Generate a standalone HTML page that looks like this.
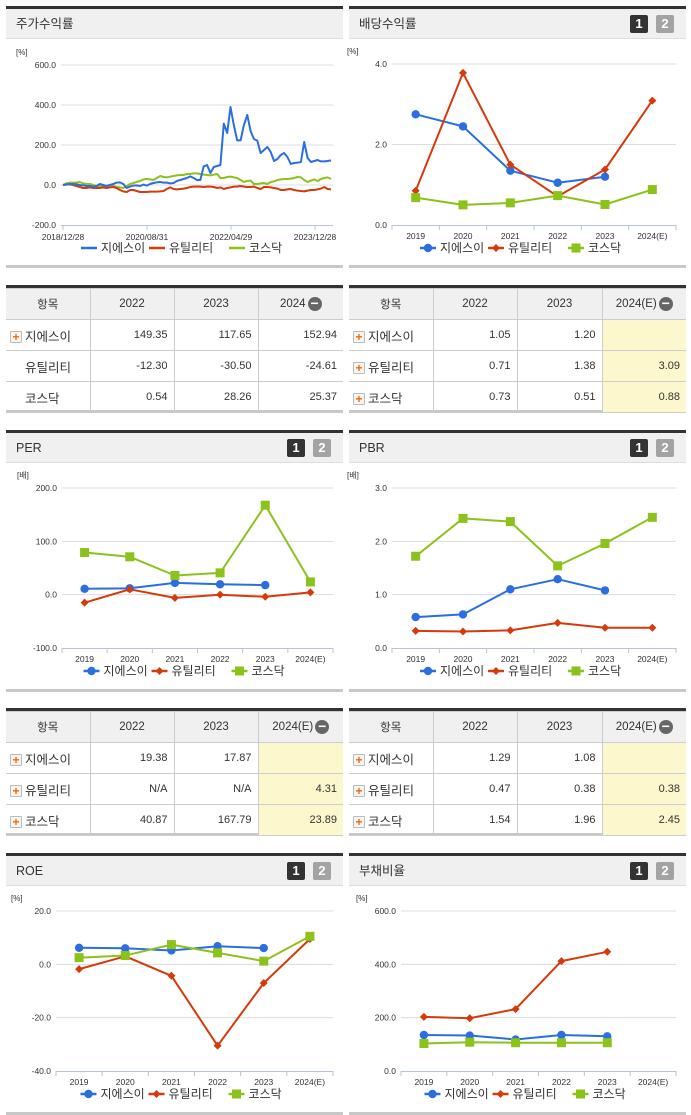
<!DOCTYPE html>
<html><head><meta charset="utf-8">
<style>
*{margin:0;padding:0;box-sizing:border-box}
body{width:691px;height:1115px;background:#fff;position:relative;overflow:hidden;font-family:"Liberation Sans","Noto Sans CJK KR",sans-serif;color:#333}
.panel{position:absolute;border-top:3px solid #333;border-bottom:3px solid #c8c8c8}
.hdr{position:absolute;left:0;right:0;top:0;height:30px;background:#f0f0f0;border-bottom:1px solid #ddd;font-size:12.5px;line-height:30px;padding-left:10px;color:#333}
.b1,.b2{position:absolute;top:6px;width:18px;height:18px;color:#fff;font-weight:bold;font-size:13px;line-height:18px;text-align:center;border-radius:2px}
.b1{background:#333;right:38px}.b2{background:#a3a3a3;right:12px}
table{position:absolute;border-collapse:collapse;font-size:11px;table-layout:fixed}
.tw{position:absolute;border-top:3px solid #333;border-bottom:3px solid #c8c8c8}
td,th{border:1px solid #ccc;height:31px;font-weight:normal}
th{background:#f0f0f0;font-size:11.5px;text-align:center}
tr td:first-child,tr th:first-child{border-left:none}
tr td:last-child,tr th:last-child{border-right:none}
td{text-align:right;padding-right:6px}
td.n{text-align:left;padding-left:4px;font-size:12.5px}
td.y{background:#fdf7cd}
.pl{display:inline-block;width:12px;height:12px;border:1px solid #bbb;background:#f6f6f6;color:#f26a00;font-size:12px;line-height:10px;text-align:center;font-weight:bold;vertical-align:middle;margin-right:3px;border-radius:1px}
.sp{display:inline-block;width:15px}
.mi{display:inline-block;width:14px;height:14px;border-radius:7px;background:#666;color:#fff;line-height:13px;font-size:14px;text-align:center;vertical-align:middle;margin-left:2px;font-weight:bold}
svg.ov{position:absolute;left:0;top:0;width:691px;height:1115px;pointer-events:none}
svg text{font-family:"Liberation Sans","Noto Sans CJK KR",sans-serif}
</style></head><body>

<div class="panel" style="left:6px;top:6px;width:337px;height:262px"><div class="hdr">주가수익률</div></div>
<div class="panel" style="left:349px;top:6px;width:337px;height:262px"><div class="hdr">배당수익률</div><div class="b1">1</div><div class="b2">2</div></div>
<div class="panel" style="left:6px;top:430px;width:337px;height:262px"><div class="hdr">PER</div><div class="b1">1</div><div class="b2">2</div></div>
<div class="panel" style="left:349px;top:430px;width:337px;height:262px"><div class="hdr">PBR</div><div class="b1">1</div><div class="b2">2</div></div>
<div class="panel" style="left:6px;top:853px;width:337px;height:262px"><div class="hdr">ROE</div><div class="b1">1</div><div class="b2">2</div></div>
<div class="panel" style="left:349px;top:853px;width:337px;height:262px"><div class="hdr">부채비율</div><div class="b1">1</div><div class="b2">2</div></div>

<!-- tables -->
<div class="tw" style="left:6px;top:285px;width:337px;height:128px">
<table style="left:0;top:0;width:337px"><colgroup><col style="width:84px"><col style="width:84px"><col style="width:84px"><col style="width:85px"></colgroup>
<tr><th>항목</th><th>2022</th><th>2023</th><th>2024<span class="mi">−</span></th></tr>
<tr><td class="n"><span class="pl">+</span>지에스이</td><td>149.35</td><td>117.65</td><td>152.94</td></tr>
<tr><td class="n"><span class="sp"></span>유틸리티</td><td>-12.30</td><td>-30.50</td><td>-24.61</td></tr>
<tr><td class="n"><span class="sp"></span>코스닥</td><td>0.54</td><td>28.26</td><td>25.37</td></tr></table></div>

<div class="tw" style="left:349px;top:285px;width:337px;height:128px">
<table style="left:0;top:0;width:337px"><colgroup><col style="width:84px"><col style="width:84px"><col style="width:85px"><col style="width:84px"></colgroup>
<tr><th>항목</th><th>2022</th><th>2023</th><th>2024(E)<span class="mi">−</span></th></tr>
<tr><td class="n"><span class="pl">+</span>지에스이</td><td>1.05</td><td>1.20</td><td class="y"></td></tr>
<tr><td class="n"><span class="pl">+</span>유틸리티</td><td>0.71</td><td>1.38</td><td class="y">3.09</td></tr>
<tr><td class="n"><span class="pl">+</span>코스닥</td><td>0.73</td><td>0.51</td><td class="y">0.88</td></tr></table></div>

<div class="tw" style="left:6px;top:708px;width:337px;height:128px">
<table style="left:0;top:0;width:337px"><colgroup><col style="width:84px"><col style="width:84px"><col style="width:84px"><col style="width:85px"></colgroup>
<tr><th>항목</th><th>2022</th><th>2023</th><th>2024(E)<span class="mi">−</span></th></tr>
<tr><td class="n"><span class="pl">+</span>지에스이</td><td>19.38</td><td>17.87</td><td class="y"></td></tr>
<tr><td class="n"><span class="pl">+</span>유틸리티</td><td>N/A</td><td>N/A</td><td class="y">4.31</td></tr>
<tr><td class="n"><span class="pl">+</span>코스닥</td><td>40.87</td><td>167.79</td><td class="y">23.89</td></tr></table></div>

<div class="tw" style="left:349px;top:708px;width:337px;height:128px">
<table style="left:0;top:0;width:337px"><colgroup><col style="width:84px"><col style="width:84px"><col style="width:85px"><col style="width:84px"></colgroup>
<tr><th>항목</th><th>2022</th><th>2023</th><th>2024(E)<span class="mi">−</span></th></tr>
<tr><td class="n"><span class="pl">+</span>지에스이</td><td>1.29</td><td>1.08</td><td class="y"></td></tr>
<tr><td class="n"><span class="pl">+</span>유틸리티</td><td>0.47</td><td>0.38</td><td class="y">0.38</td></tr>
<tr><td class="n"><span class="pl">+</span>코스닥</td><td>1.54</td><td>1.96</td><td class="y">2.45</td></tr></table></div>

<svg class="ov" id="ov" xmlns="http://www.w3.org/2000/svg"></svg>

<script>
// ---------- data ----------
const stockDates = ["2018/12/28","2020/08/31","2022/04/29","2023/12/28"];
const stockGse = [0,3,5,5,3,0,-2,-5,-5,-8,-5,5,0,-5,0,5,12,13,5,-15,-8,-3,-2,-5,2,-3,5,10,13,15,12,12,8,10,20,25,30,35,43,35,25,25,93,100,60,90,95,100,307,260,390,300,223,223,300,350,270,230,222,160,175,190,165,120,130,150,160,140,105,110,112,115,215,135,115,120,125,118,118,120,123];
const stockUtil = [0,2,3,0,-5,-10,-15,-15,-12,-15,-15,-15,-12,-15,-12,-10,-15,-25,-32,-35,-25,-25,-30,-35,-35,-35,-33,-33,-33,-32,-30,-20,-12,-20,-22,-20,-18,-15,-10,-8,-8,-8,-10,-8,-8,-10,-15,-12,-20,-15,-12,-8,-8,-5,-8,-10,-10,-8,-15,-20,-10,-10,-12,-15,-18,-25,-25,-22,-20,-25,-28,-30,-32,-28,-25,-25,-22,-18,-10,-20,-22];
const stockKosdaq = [0,8,12,12,12,15,8,5,5,0,-5,-5,-8,-5,0,-5,-10,-12,-15,-5,5,10,15,20,28,30,28,25,35,45,40,38,42,45,48,50,50,55,55,58,58,55,52,50,48,52,55,35,35,40,42,38,35,25,15,20,22,5,5,8,10,5,15,18,25,28,30,30,32,35,40,38,25,15,22,28,20,30,35,38,30];
const stockTicks = [600,400,200,0,-200];

const years = ["2019","2020","2021","2022","2023","2024(E)"];
const divGse = [2.75,2.45,1.35,1.05,1.20,null];
const divUtil = [0.85,3.78,1.50,0.71,1.38,3.09];
const divKosdaq = [0.68,0.50,0.55,0.73,0.51,0.88];
const divTicks = [4,2,0];

const perGse = [11,12,22,19.38,17.87,null];
const perUtil = [-15,10,-6,0,-4,4.31];
const perKosdaq = [79,71,36,40.87,167.79,23.89];
const perTicks = [200,100,0,-100];

const pbrGse = [0.58,0.63,1.10,1.29,1.08,null];
const pbrUtil = [0.32,0.31,0.33,0.47,0.38,0.38];
const pbrKosdaq = [1.72,2.43,2.37,1.54,1.96,2.45];
const pbrTicks = [3,2,1,0];

const roeGse = [6.2,6.0,5.2,6.8,6.1,null];
const roeUtil = [-1.8,3.0,-4.3,-30.5,-7.0,9.5];
const roeKosdaq = [2.5,3.3,7.4,4.3,1.2,10.5];
const roeTicks = [20,0,-20,-40];

const debtGse = [135,133,118,135,130,null];
const debtUtil = [203,198,232,412,447,null];
const debtKosdaq = [103,108,106,106,106,null];
const debtTicks = [600,400,200,0];

const seriesNames = ["지에스이","유틸리티","코스닥"];
// ---------- drawing ----------
const NS="http://www.w3.org/2000/svg";
const ov=document.getElementById('ov');
const COL=["#2a6ee0","#d43a0b","#8cc21c"];
function mk(tag,attrs,parent){const e=document.createElementNS(NS,tag);for(const k in attrs)e.setAttribute(k,attrs[k]);(parent||ov).appendChild(e);return e;}
function txt(x,y,s,size,anchor,fill,parent){const t=mk('text',{x:x,y:y,'font-size':size,'text-anchor':anchor||'start',fill:fill||'#333'},parent);t.textContent=s;return t;}

function frame(g,c){
  const ys=v=>c.yb+(c.max-v)/(c.max-c.min)*(c.yt-c.yb)*-1+0;
  const yScale=v=>c.yt+(c.max-v)/(c.max-c.min)*(c.yb-c.yt);
  txt(c.x0-45+(c.unitDx||0),c.yt-10,c.unit,8,'start','#333',g);
  c.ticks.forEach(t=>{
    const y=yScale(t);
    if(t!==c.min) mk('line',{x1:c.x0,x2:c.x1,y1:y,y2:y,stroke:'#dcdcdc','stroke-width':1},g);
    txt(c.x0-5,y+3,t.toFixed(1),8.5,'end','#333',g);
  });
  mk('line',{x1:c.x0,x2:c.x1,y1:c.yb+0.5,y2:c.yb+0.5,stroke:'#b8c4d6','stroke-width':1},g);
  return yScale;
}
function legend(g,cx,y,markers){
  const w=[68,80,60];let x=cx-104;
  seriesNames.forEach((n,i)=>{
    const lg=mk('g',{},g);
    
    
    mk('line',{x1:x,x2:x+16,y1:y-4,y2:y-4,stroke:COL[i],'stroke-width':2.5},lg);
    if(markers) marker(lg,i,x+8,y-4);
    txt(x+20,y,n,12,'start','#333',lg);
    x+=w[i];
  });
}
function marker(g,i,x,y){
  if(i===0) mk('circle',{cx:x,cy:y,r:4.2,fill:COL[0]},g);
  else if(i===1) mk('path',{d:`M${x} ${y-4}L${x+4} ${y}L${x} ${y+4}L${x-4} ${y}Z`,fill:COL[1]},g);
  else mk('rect',{x:x-4.5,y:y-4.5,width:9,height:9,fill:COL[2]},g);
}
function catChart(name,c,data){
  const g=mk('g',{});
  
  
  const yS=frame(g,c);
  const bw=(c.x1-c.x0)/years.length;
  const xS=i=>c.x0+bw*(i+0.5);
  for(let i=0;i<=years.length;i++){const x=c.x0+bw*i;mk('line',{x1:x,x2:x,y1:c.yb,y2:c.yb+5,stroke:'#b8c4d6'},g);}
  years.forEach((yv,i)=>txt(xS(i),c.yb+14,yv,8.5,'middle','#333',g));
  data.forEach((arr,si)=>{
    let d='';arr.forEach((v,i)=>{if(v===null)return;d+=(d?'L':'M')+xS(i).toFixed(1)+' '+yS(v).toFixed(1);});
    const p=mk('path',{d:d,fill:'none',stroke:COL[si],'stroke-width':2,'stroke-linejoin':'round'},g);
    
    
    arr.forEach((v,i)=>{if(v!==null)marker(g,si,xS(i),yS(v));});
  });
  legend(g,(c.x0+c.x1)/2-10,c.yb+27,true);
}
// stock return chart
(function(){
  const c={x0:61,x1:333,yt:65,yb:225,min:-200,max:600,ticks:stockTicks,unit:'[%]'};
  const g=mk('g',{});
  
  
  const yS=frame(g,c);
  const tx=[63,147,231,315];
  stockDates.forEach((d,i)=>{mk('line',{x1:tx[i],x2:tx[i],y1:c.yb,y2:c.yb+5,stroke:'#b8c4d6'},g);txt(tx[i],c.yb+15,d,8.5,'middle','#333',g);});
  const xa=63, xb=331;
  [stockKosdaq,stockUtil,stockGse].forEach((arr,k)=>{
    const si=[2,1,0][k];
    const n=arr.length;
    let d='';arr.forEach((v,i)=>{d+=(i?'L':'M')+(xa+(xb-xa)*i/(n-1)).toFixed(1)+' '+yS(v).toFixed(1);});
    const p=mk('path',{d:d,fill:'none',stroke:COL[si],'stroke-width':2,'stroke-linejoin':'round'},g);
    
    
  });
  legend(g,185,252,false);
})();
catChart('dividend-yield-chart',{x0:392,x1:676,yt:64,yb:225,min:0,max:4,ticks:divTicks,unit:'[%]'},[divGse,divUtil,divKosdaq]);
catChart('per-chart',{x0:62,x1:333,yt:488,yb:648,min:-100,max:200,ticks:perTicks,unit:'[배]'},[perGse,perUtil,perKosdaq]);
catChart('pbr-chart',{x0:392,x1:676,yt:488,yb:648,min:0,max:3,ticks:pbrTicks,unit:'[배]'},[pbrGse,pbrUtil,pbrKosdaq]);
catChart('roe-chart',{x0:56,x1:333,yt:911,yb:1071,min:-40,max:20,ticks:roeTicks,unit:'[%]'},[roeGse,roeUtil,roeKosdaq]);
catChart('debt-ratio-chart',{x0:401,x1:676,yt:911,yb:1071,min:0,max:600,ticks:debtTicks,unit:'[%]'},[debtGse,debtUtil,debtKosdaq]);
</script>
</body></html>
